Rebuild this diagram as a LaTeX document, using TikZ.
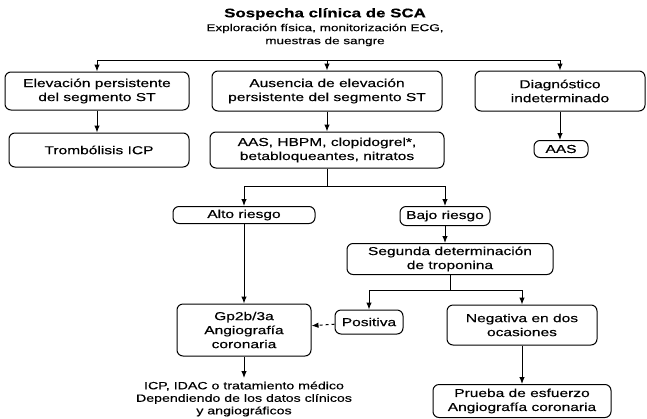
\documentclass[tikz,border=0pt]{standalone}
\usepackage{fontspec}
\setmainfont{Liberation Sans}[FakeStretch=1.35,FakeBold=0.4]
\usetikzlibrary{arrows.meta}

\begin{document}
\begin{tikzpicture}[x=1pt,y=-1pt,
        caja/.style={draw, rounded corners=6pt, line width=1pt, align=center, inner sep=1pt, font=\fontsize{11.5}{14}\selectfont},
        flecha/.style={line width=1pt, -{Latex[length=7pt,width=5.5pt]}},
        linea/.style={line width=1pt}]
        \path[use as bounding box] (0,0) rectangle (647,418);

        \node[font=\bfseries\fontsize{12.5}{14}\selectfont] (titulo) at (325,14) {Sospecha clínica de SCA};
        \node[align=center, font=\fontsize{10}{13}\selectfont] (explor) at (325,35) {Exploración física, monitorización ECG,\\muestras de sangre};

        \node[caja, minimum width=184pt, minimum height=38pt] (elev) at (97,91) {Elevación persistente\\del segmento ST};
        \node[caja, minimum width=230pt, minimum height=40pt] (ausen) at (327,91) {Ausencia de elevación\\persistente del segmento ST};
        \node[caja, minimum width=170pt, minimum height=40pt] (diag) at (560,91) {Diagnóstico\\indeterminado};

        \node[caja, minimum width=180pt, minimum height=34pt] (tromb) at (99,150) {Trombólisis ICP};
        \node[caja, minimum width=234pt, minimum height=36pt] (trat) at (327,150) {AAS, HBPM, clopidogrel*,\\betabloqueantes, nitratos};
        \node[caja, minimum width=54pt, minimum height=17pt] (aas) at (561,149) {AAS};

        \node[caja, minimum width=142pt, minimum height=17pt] (alto) at (244,215) {Alto riesgo};
        \node[caja, minimum width=90pt, minimum height=19pt] (bajo) at (445,216) {Bajo riesgo};
        \node[caja, minimum width=206pt, minimum height=31pt] (segunda) at (450,259) {Segunda determinación\\de troponina};

        \node[caja, minimum width=134pt, minimum height=52pt] (gp) at (244,330) {Gp2b/3a\\Angiografía\\coronaria};
        \node[caja, minimum width=68pt, minimum height=24pt] (posit) at (369,322) {Positiva};
        \node[caja, minimum width=150pt, minimum height=40pt] (negat) at (522,325) {Negativa en dos\\ocasiones};

        \node[align=center, font=\fontsize{10.5}{12.5}\selectfont] (result) at (244,399) {ICP, IDAC o tratamiento médico\\Dependiendo de los datos clínicos\\y angiográficos};
        \node[caja, minimum width=178pt, minimum height=33pt] (prueba) at (522,401) {Prueba de esfuerzo\\Angiografía coronaria};

        % uniones
        \coordinate (j1) at (327,60);
        \coordinate (j2) at (327,186);
        \coordinate (j3) at (450,290);

        \draw[linea] (elev.north |- j1) -- (diag.north |- j1);
        \draw[flecha] (j1) -| (elev);
        \draw[flecha] (j1) -- (ausen);
        \draw[flecha] (j1) -| (diag);

        \draw[flecha] (elev) -- (elev |- tromb.north);
        \draw[flecha] (ausen) -- (trat);
        \draw[flecha] (diag) -- (diag |- aas.north);

        \draw[linea] (trat) -- (j2);
        \draw[flecha] (j2) -| (alto);
        \draw[flecha] (j2) -| (bajo);

        \draw[flecha] (bajo) -- (bajo |- segunda.north);
        \draw[linea] (segunda) -- (j3);
        \draw[flecha] (j3) -| (posit);
        \draw[flecha] (j3) -| (negat);

        \draw[flecha] (alto) -- (gp);
        \draw[flecha, dashed] (posit) -- (gp);
        \draw[flecha] (gp) -- (result);
        \draw[flecha] (negat) -- (prueba);
    \end{tikzpicture}
\end{document}
